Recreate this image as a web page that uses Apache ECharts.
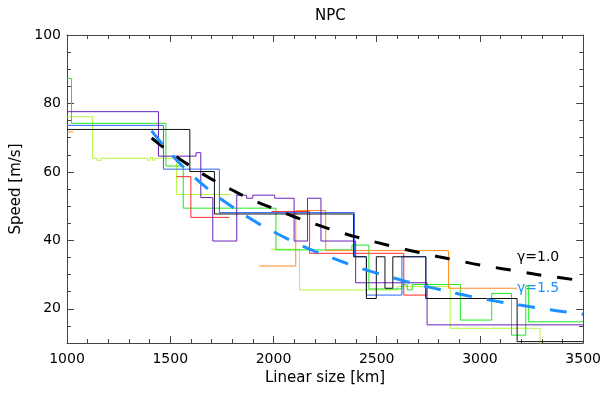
<!DOCTYPE html>
<html>
<head>
<meta charset="utf-8">
<script src="https://cdn.jsdelivr.net/npm/echarts@6/dist/echarts.min.js"></script>
<style>
  html, body { margin: 0; padding: 0; background: #fff; }
  #main { width: 604px; height: 394px; }
</style>
</head>
<body>
<div id="main"></div>
<script>
// step profiles: [linear size km, speed m/s], null = gap
const blackSteps = [[1000, 72.4], [1595, 60.1], [1714, 47.7], [2388, 35.2], [2450, 23.0], [2498, 35.2],
  [2540, 26.0], [2578, 35.2], [2738, 23.0], [3180, 10.4], [3500, 10.4]];
const blueSteps = [[1000, 73.6], [1467, 60.8], [1738, 48.1], [2392, 35.2], [2450, 24.0], [2622, 35.2],
  [2738, 23.0], [3180, 23.0]];
const purpleSteps = [[1000, 77.6], [1443, 64.6], [1625, 65.6], [1648, 52.5], [1706, 39.8], [1822, 53.2],
  [1870, 52.3], [1900, 53.2], [2006, 52.3], [2100, 39.8], [2165, 52.3], [2230, 39.8], [2398, 27.6],
  [2744, 15.3], [3500, 15.3]];
const redSteps = [[1531, 58.6], [1600, 46.7], [1787, 46.7], [1790, null], [1991, 48.4], [2175, 36.2],
  [2631, 24.0], [2744, 24.0]];
const orangeSteps = [[1000, 71.7], [1025, 71.7], [1030, null], [1931, 32.5], [2108, 48.7], [2253, 37.0],
  [2848, 26.0], [3178, 26.0]];
const greenSteps = [[1000, 87.3], [1022, 74.2], [1479, 61.7], [1563, 49.4], [2012, 37.2], [2380, 38.6],
  [2462, 25.8], [2622, 27.0], [2648, 25.5], [2672, 27.1], [2905, 16.7], [3057, 24.5], [3153, 12.3],
  [3222, 26.7], [3236, 16.2], [3500, 16.2]];
const limeSteps = [[1000, 76.1], [1124, 64.0], [1145, 63.4], [1165, 64.0], [1390, 63.4], [1402, 64.2],
  [1414, 63.4], [1425, 64.0], [1531, 53.4], [1787, 53.4], [1790, null], [1988, 37.4], [2126, 25.5],
  [2600, 26.5], [2856, 14.3], [3291, 5], [3500, 5]];

// power-law fits
const fitX = [1410, 1500, 1600, 1700, 1800, 1900, 2000, 2100, 2200, 2300, 2400, 2500, 2600, 2700,
  2800, 2900, 3000, 3100, 3200, 3300, 3400, 3500];
const gamma10 = [69.9, 65.7, 61.6, 57.9, 54.7, 51.8, 49.3, 46.9, 44.8, 42.8, 41.0, 39.4, 37.9, 36.5,
  35.2, 34.0, 32.8, 31.8, 30.8, 29.8, 29.0, 28.1];
const gamma15 = [72.0, 65.5, 59.4, 54.2, 49.8, 45.9, 42.5, 39.5, 36.8, 34.5, 32.3, 30.4, 28.7, 27.1,
  25.7, 24.3, 23.1, 22.0, 21.0, 20.1, 19.2, 18.4];

const yMajor = [20, 40, 60, 80, 100];
const FONT = 'DejaVu Sans';
const axisColor = '#444';

function stepLine(data, color) {
  return {
    type: 'line', step: 'end', data: data, symbol: 'none', silent: true,
    lineStyle: { color: color, width: 1 }, color: color
  };
}
function fitLine(vals, color, dash) {
  return {
    type: 'line', smooth: true, symbol: 'none', silent: true, z: 5,
    data: fitX.map((x, i) => [x, vals[i]]),
    lineStyle: { color: color, width: 3, type: dash }, color: color
  };
}
function xAx(pos) {
  return {
    type: 'value', min: 1000, max: 3500, interval: 500, position: pos,
    axisLine: { show: true, onZero: false, lineStyle: { color: axisColor } },
    axisTick: { show: true, inside: true, length: 7, lineStyle: { color: axisColor } },
    minorTick: { show: true, splitNumber: 5, length: 4, lineStyle: { color: axisColor } },
    splitLine: { show: false },
    axisLabel: {
      show: pos === 'bottom', color: '#000', fontSize: 14, fontFamily: FONT, margin: 9,
      formatter: v => String(v)
    },
    name: pos === 'bottom' ? 'Linear size [km]' : '',
    nameLocation: 'middle', nameGap: 25,
    nameTextStyle: { color: '#000', fontSize: 15, fontFamily: FONT }
  };
}
function yMinor(pos) {
  return {
    type: 'value', min: 10, max: 100, interval: 5, position: pos,
    axisLine: { show: true, onZero: false, lineStyle: { color: axisColor } },
    axisTick: { show: true, inside: true, length: 4, lineStyle: { color: axisColor } },
    splitLine: { show: false },
    axisLabel: {
      show: pos === 'left', color: '#000', fontSize: 14, fontFamily: FONT, margin: 6,
      formatter: v => (v % 20 === 0 ? String(v) : '')
    },
    name: pos === 'left' ? 'Speed [m/s]' : '',
    nameLocation: 'middle', nameGap: 34, nameRotate: 90,
    nameTextStyle: { color: '#000', fontSize: 15, fontFamily: FONT }
  };
}
function yMajorAx(pos) {
  return {
    type: 'value', min: 10, max: 100, interval: 5, position: pos,
    axisLine: { show: false },
    axisTick: { show: true, inside: true, length: 7, customValues: yMajor, lineStyle: { color: axisColor } },
    axisLabel: { show: false },
    splitLine: { show: false }
  };
}

const chart = echarts.init(document.getElementById('main'));
chart.setOption({
  animation: false,
  backgroundColor: '#fff',
  title: {
    text: 'NPC', left: 310, top: 4,
    textStyle: { color: '#000', fontSize: 15, fontWeight: 'normal', fontFamily: FONT }
  },
  grid: { left: 67, right: 19, top: 35, bottom: 51 },
  xAxis: [xAx('bottom'), xAx('top')],
  yAxis: [yMinor('left'), yMajorAx('left'), yMinor('right'), yMajorAx('right')],
  series: [
    stepLine(limeSteps, '#b8f43a'),
    stepLine(greenSteps, '#1ee81e'),
    stepLine(orangeSteps, '#ff8a1c'),
    stepLine(redSteps, '#ff2a2a'),
    stepLine(blueSteps, '#2a64ff'),
    stepLine(purpleSteps, '#6a22b8'),
    stepLine(blackSteps, '#111'),
    fitLine(gamma10, '#000', [15, 16]),
    fitLine(gamma15, '#1e90ff', [17, 15])
  ],
  graphic: [
    { type: 'text', left: 517, top: 250, style: { text: 'γ=1.0', fill: '#000', font: '14px "DejaVu Sans"' } },
    { type: 'text', left: 517, top: 281, style: { text: 'γ=1.5', fill: '#1e90ff', font: '14px "DejaVu Sans"' } }
  ]
});
</script>
</body>
</html>
